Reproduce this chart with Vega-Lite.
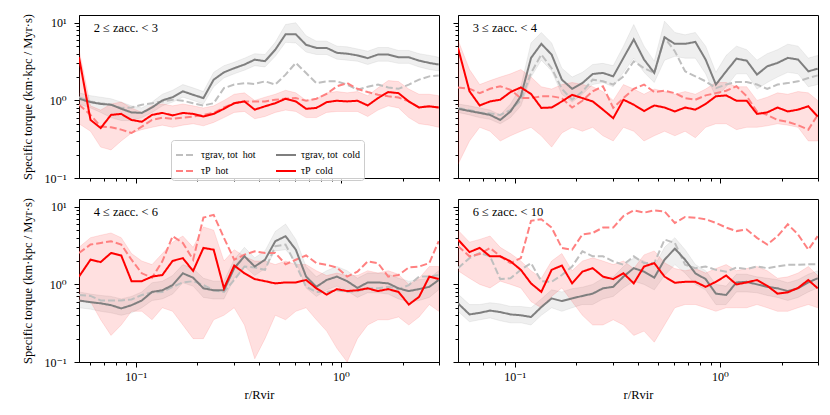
{
  "$schema": "https://vega.github.io/schema/vega-lite/v6.json",
  "padding": {"left": 20, "top": 13, "right": 14, "bottom": 5},
  "background": "white",
  "config": {
    "font": "Liberation Serif, DejaVu Serif, serif",
    "view": {"stroke": "black", "strokeWidth": 1},
    "axis": {"grid": false, "domainColor": "black", "tickColor": "black", "labelColor": "black", "titleColor": "black", "labelFont": "Liberation Serif, DejaVu Serif, serif", "titleFont": "Liberation Serif, DejaVu Serif, serif", "labelFontSize": 12, "titleFontSize": 12.5, "titleFontWeight": "normal", "labelFlush": false, "labelOverlap": false},
    "legend": {"labelFont": "Liberation Serif, DejaVu Serif, serif", "labelFontSize": 11},
    "text": {"font": "Liberation Serif, DejaVu Serif, serif"}
  },
  "datasets": {
    "curves": [
      {"p":1,"x":0.053,"gh":1.1,"ph":0.88,"gc":1.05,"pc":3.6,"gl":0.9,"gu":1.25,"pl":0.5,"pu":4.5},
      {"p":1,"x":0.0603,"gh":0.97,"ph":0.65,"gc":0.95,"pc":0.56,"gl":0.8,"gu":1.15,"pl":0.4,"pu":0.85},
      {"p":1,"x":0.0676,"gh":0.92,"ph":0.46,"gc":0.9,"pc":0.44,"gl":0.7,"gu":1.1,"pl":0.25,"pu":0.75},
      {"p":1,"x":0.0759,"gh":0.88,"ph":0.45,"gc":0.88,"pc":0.65,"gl":0.6,"gu":1.05,"pl":0.23,"pu":0.9},
      {"p":1,"x":0.0851,"gh":0.8,"ph":0.42,"gc":0.78,"pc":0.67,"gl":0.55,"gu":0.95,"pl":0.3,"pu":0.95},
      {"p":1,"x":0.0955,"gh":0.81,"ph":0.38,"gc":0.7,"pc":0.56,"gl":0.55,"gu":0.85,"pl":0.38,"pu":0.8},
      {"p":1,"x":0.1072,"gh":0.88,"ph":0.46,"gc":0.69,"pc":0.53,"gl":0.6,"gu":0.8,"pl":0.42,"pu":0.7},
      {"p":1,"x":0.1202,"gh":0.92,"ph":0.56,"gc":0.81,"pc":0.65,"gl":0.7,"gu":0.95,"pl":0.45,"pu":0.85},
      {"p":1,"x":0.1349,"gh":0.97,"ph":0.6,"gc":1.0,"pc":0.69,"gl":0.85,"gu":1.2,"pl":0.48,"pu":0.9},
      {"p":1,"x":0.1514,"gh":1.02,"ph":0.58,"gc":1.1,"pc":0.64,"gl":0.95,"gu":1.35,"pl":0.45,"pu":0.85},
      {"p":1,"x":0.1698,"gh":0.99,"ph":0.6,"gc":1.31,"pc":0.69,"gl":1.1,"gu":1.6,"pl":0.48,"pu":0.9},
      {"p":1,"x":0.1905,"gh":0.92,"ph":0.62,"gc":1.18,"pc":0.67,"gl":1.0,"gu":1.45,"pl":0.5,"pu":0.85},
      {"p":1,"x":0.2138,"gh":0.86,"ph":0.65,"gc":1.07,"pc":0.62,"gl":0.9,"gu":1.3,"pl":0.47,"pu":0.8},
      {"p":1,"x":0.2399,"gh":0.92,"ph":0.69,"gc":1.85,"pc":0.67,"gl":1.5,"gu":2.3,"pl":0.52,"pu":0.85},
      {"p":1,"x":0.2692,"gh":1.44,"ph":0.81,"gc":2.3,"pc":0.78,"gl":1.95,"gu":2.8,"pl":0.6,"pu":1.0},
      {"p":1,"x":0.302,"gh":1.6,"ph":0.92,"gc":2.6,"pc":0.92,"gl":2.2,"gu":3.1,"pl":0.7,"pu":1.2},
      {"p":1,"x":0.3388,"gh":1.67,"ph":0.97,"gc":2.9,"pc":0.97,"gl":2.45,"gu":3.5,"pl":0.72,"pu":1.25},
      {"p":1,"x":0.3802,"gh":1.63,"ph":0.97,"gc":3.35,"pc":0.76,"gl":2.8,"gu":4.0,"pl":0.58,"pu":1.0},
      {"p":1,"x":0.4266,"gh":1.76,"ph":0.97,"gc":3.2,"pc":0.84,"gl":2.7,"gu":3.9,"pl":0.62,"pu":1.1},
      {"p":1,"x":0.4786,"gh":1.6,"ph":1.02,"gc":4.5,"pc":0.92,"gl":3.7,"gu":5.6,"pl":0.7,"pu":1.2},
      {"p":1,"x":0.537,"gh":2.15,"ph":1.05,"gc":7.1,"pc":1.05,"gl":5.6,"gu":9.5,"pl":0.75,"pu":1.35},
      {"p":1,"x":0.6026,"gh":3.04,"ph":1.07,"gc":7.1,"pc":0.97,"gl":5.5,"gu":10.0,"pl":0.72,"pu":1.25},
      {"p":1,"x":0.6761,"gh":2.25,"ph":0.99,"gc":5.2,"pc":0.78,"gl":4.2,"gu":6.8,"pl":0.6,"pu":1.0},
      {"p":1,"x":0.7586,"gh":1.67,"ph":1.05,"gc":4.75,"pc":0.8,"gl":3.9,"gu":5.8,"pl":0.6,"pu":1.05},
      {"p":1,"x":0.8511,"gh":1.76,"ph":1.21,"gc":4.75,"pc":0.95,"gl":3.9,"gu":5.8,"pl":0.7,"pu":1.25},
      {"p":1,"x":0.955,"gh":1.76,"ph":1.52,"gc":4.1,"pc":0.99,"gl":3.4,"gu":5.0,"pl":0.72,"pu":1.3},
      {"p":1,"x":1.0715,"gh":1.6,"ph":1.67,"gc":4.0,"pc":0.97,"gl":3.3,"gu":4.9,"pl":0.72,"pu":1.25},
      {"p":1,"x":1.2023,"gh":1.37,"ph":1.41,"gc":3.8,"pc":0.99,"gl":3.2,"gu":4.6,"pl":0.72,"pu":1.3},
      {"p":1,"x":1.349,"gh":1.5,"ph":1.28,"gc":3.5,"pc":0.86,"gl":2.9,"gu":4.3,"pl":0.62,"pu":1.15},
      {"p":1,"x":1.5136,"gh":1.6,"ph":1.18,"gc":3.9,"pc":1.07,"gl":3.2,"gu":4.8,"pl":0.75,"pu":1.45},
      {"p":1,"x":1.6982,"gh":1.47,"ph":1.13,"gc":3.9,"pc":1.28,"gl":3.2,"gu":4.8,"pl":0.85,"pu":1.8},
      {"p":1,"x":1.9055,"gh":1.41,"ph":1.09,"gc":3.6,"pc":1.24,"gl":3.0,"gu":4.4,"pl":0.8,"pu":1.75},
      {"p":1,"x":2.138,"gh":1.6,"ph":0.97,"gc":3.6,"pc":0.97,"gl":3.0,"gu":4.4,"pl":0.6,"pu":1.4},
      {"p":1,"x":2.3988,"gh":1.85,"ph":0.81,"gc":3.25,"pc":0.81,"gl":2.7,"gu":4.0,"pl":0.5,"pu":1.2},
      {"p":1,"x":2.6915,"gh":2.04,"ph":0.84,"gc":3.04,"pc":0.84,"gl":2.5,"gu":3.8,"pl":0.48,"pu":1.2},
      {"p":1,"x":2.99,"gh":2.1,"ph":0.81,"gc":2.9,"pc":0.81,"gl":2.4,"gu":3.6,"pl":0.45,"pu":1.15},

      {"p":2,"x":0.053,"gh":0.8,"ph":1.47,"gc":0.78,"pc":4.75,"gl":0.7,"gu":0.9,"pl":0.15,"pu":6.0},
      {"p":2,"x":0.0603,"gh":0.75,"ph":1.41,"gc":0.73,"pc":1.31,"gl":0.65,"gu":0.85,"pl":0.3,"pu":2.5},
      {"p":2,"x":0.0676,"gh":0.7,"ph":1.24,"gc":0.69,"pc":0.86,"gl":0.6,"gu":0.8,"pl":0.45,"pu":1.6},
      {"p":2,"x":0.0759,"gh":0.68,"ph":1.41,"gc":0.65,"pc":0.97,"gl":0.57,"gu":0.75,"pl":0.4,"pu":1.8},
      {"p":2,"x":0.0851,"gh":0.65,"ph":1.52,"gc":0.56,"pc":1.02,"gl":0.5,"gu":0.65,"pl":0.3,"pu":2.0},
      {"p":2,"x":0.0955,"gh":0.75,"ph":1.37,"gc":0.72,"pc":1.28,"gl":0.6,"gu":0.9,"pl":0.35,"pu":2.2},
      {"p":2,"x":0.1072,"gh":1.0,"ph":1.07,"gc":1.13,"pc":1.47,"gl":0.85,"gu":1.5,"pl":0.4,"pu":2.5},
      {"p":2,"x":0.1202,"gh":2.26,"ph":1.07,"gc":3.53,"pc":1.21,"gl":2.0,"gu":5.5,"pl":0.45,"pu":2.0},
      {"p":2,"x":0.1349,"gh":3.9,"ph":1.13,"gc":5.35,"pc":0.8,"gl":3.3,"gu":7.5,"pl":0.35,"pu":1.5},
      {"p":2,"x":0.1514,"gh":2.6,"ph":1.13,"gc":3.89,"pc":0.81,"gl":2.4,"gu":5.5,"pl":0.25,"pu":1.4},
      {"p":2,"x":0.1698,"gh":1.41,"ph":1.07,"gc":1.85,"pc":0.97,"gl":1.2,"gu":2.6,"pl":0.38,"pu":1.6},
      {"p":2,"x":0.1905,"gh":1.02,"ph":0.81,"gc":1.41,"pc":1.18,"gl":0.95,"gu":2.0,"pl":0.45,"pu":1.7},
      {"p":2,"x":0.2138,"gh":1.3,"ph":0.99,"gc":1.67,"pc":1.07,"gl":1.2,"gu":2.3,"pl":0.4,"pu":1.6},
      {"p":2,"x":0.2399,"gh":1.85,"ph":1.31,"gc":2.19,"pc":0.97,"gl":1.6,"gu":2.9,"pl":0.45,"pu":1.5},
      {"p":2,"x":0.2692,"gh":1.76,"ph":1.52,"gc":2.26,"pc":0.76,"gl":1.7,"gu":3.0,"pl":0.35,"pu":1.3},
      {"p":2,"x":0.302,"gh":1.6,"ph":0.8,"gc":2.04,"pc":0.59,"gl":1.5,"gu":2.8,"pl":0.3,"pu":1.0},
      {"p":2,"x":0.3388,"gh":2.04,"ph":1.07,"gc":3.53,"pc":1.02,"gl":2.3,"gu":5.0,"pl":0.45,"pu":1.6},
      {"p":2,"x":0.3802,"gh":3.19,"ph":1.41,"gc":6.1,"pc":0.88,"gl":3.5,"gu":9.5,"pl":0.4,"pu":1.4},
      {"p":2,"x":0.4266,"gh":2.6,"ph":1.6,"gc":3.36,"pc":0.73,"gl":2.3,"gu":5.0,"pl":0.3,"pu":1.2},
      {"p":2,"x":0.4786,"gh":2.26,"ph":1.28,"gc":2.26,"pc":0.86,"gl":1.7,"gu":3.2,"pl":0.35,"pu":1.4},
      {"p":2,"x":0.537,"gh":6.4,"ph":1.33,"gc":6.5,"pc":0.81,"gl":3.3,"gu":10.5,"pl":0.4,"pu":1.3},
      {"p":2,"x":0.6026,"gh":4.3,"ph":1.24,"gc":5.35,"pc":0.72,"gl":3.7,"gu":7.5,"pl":0.35,"pu":1.2},
      {"p":2,"x":0.6761,"gh":2.37,"ph":1.07,"gc":5.35,"pc":0.81,"gl":3.5,"gu":7.0,"pl":0.4,"pu":1.3},
      {"p":2,"x":0.7586,"gh":2.04,"ph":1.02,"gc":5.67,"pc":0.76,"gl":3.5,"gu":7.5,"pl":0.33,"pu":1.2},
      {"p":2,"x":0.8511,"gh":1.76,"ph":1.16,"gc":3.36,"pc":0.9,"gl":2.2,"gu":5.0,"pl":0.45,"pu":1.4},
      {"p":2,"x":0.955,"gh":1.44,"ph":1.24,"gc":1.6,"pc":1.13,"gl":1.1,"gu":2.3,"pl":0.5,"pu":1.7},
      {"p":2,"x":1.0715,"gh":1.6,"ph":1.33,"gc":2.37,"pc":1.16,"gl":1.5,"gu":3.8,"pl":0.5,"pu":1.7},
      {"p":2,"x":1.2023,"gh":1.73,"ph":1.52,"gc":3.45,"pc":0.99,"gl":2.2,"gu":5.0,"pl":0.42,"pu":1.5},
      {"p":2,"x":1.349,"gh":1.73,"ph":1.13,"gc":3.25,"pc":0.99,"gl":2.2,"gu":4.5,"pl":0.45,"pu":1.5},
      {"p":2,"x":1.5136,"gh":1.6,"ph":0.72,"gc":2.15,"pc":0.67,"gl":1.4,"gu":3.3,"pl":0.45,"pu":1.0},
      {"p":2,"x":1.6982,"gh":1.41,"ph":0.65,"gc":2.75,"pc":0.7,"gl":1.7,"gu":4.0,"pl":0.47,"pu":1.1},
      {"p":2,"x":1.9055,"gh":1.6,"ph":0.56,"gc":3.04,"pc":0.81,"gl":2.0,"gu":4.5,"pl":0.5,"pu":1.25},
      {"p":2,"x":2.138,"gh":1.67,"ph":0.53,"gc":3.53,"pc":0.72,"gl":2.3,"gu":5.3,"pl":0.48,"pu":1.2},
      {"p":2,"x":2.3988,"gh":1.76,"ph":0.48,"gc":3.36,"pc":0.76,"gl":2.2,"gu":5.0,"pl":0.45,"pu":1.3},
      {"p":2,"x":2.6915,"gh":1.94,"ph":0.42,"gc":2.37,"pc":0.84,"gl":1.5,"gu":3.5,"pl":0.3,"pu":1.25},
      {"p":2,"x":2.99,"gh":2.1,"ph":0.65,"gc":2.56,"pc":0.62,"gl":1.6,"gu":3.8,"pl":0.3,"pu":1.0},

      {"p":3,"x":0.053,"gh":0.73,"ph":2.54,"gc":0.62,"pc":1.26,"gl":0.5,"gu":0.8,"pl":0.6,"pu":3.0},
      {"p":3,"x":0.0603,"gh":0.71,"ph":3.26,"gc":0.59,"pc":2.08,"gl":0.48,"gu":0.75,"pl":0.6,"pu":4.0},
      {"p":3,"x":0.0676,"gh":0.62,"ph":3.42,"gc":0.57,"pc":1.94,"gl":0.45,"gu":0.72,"pl":0.35,"pu":4.3},
      {"p":3,"x":0.0759,"gh":0.62,"ph":3.6,"gc":0.54,"pc":2.54,"gl":0.43,"gu":0.7,"pl":0.22,"pu":4.6},
      {"p":3,"x":0.0851,"gh":0.62,"ph":3.26,"gc":0.49,"pc":2.36,"gl":0.4,"gu":0.65,"pl":0.3,"pu":4.0},
      {"p":3,"x":0.0955,"gh":0.64,"ph":2.08,"gc":0.54,"pc":1.1,"gl":0.43,"gu":0.7,"pl":0.45,"pu":2.5},
      {"p":3,"x":0.1072,"gh":0.73,"ph":1.39,"gc":0.62,"pc":1.1,"gl":0.5,"gu":0.8,"pl":0.45,"pu":2.0},
      {"p":3,"x":0.1202,"gh":0.79,"ph":1.22,"gc":0.8,"pc":1.26,"gl":0.62,"gu":1.05,"pl":0.35,"pu":1.8},
      {"p":3,"x":0.1349,"gh":0.8,"ph":1.98,"gc":0.84,"pc":1.32,"gl":0.65,"gu":1.1,"pl":0.5,"pu":2.5},
      {"p":3,"x":0.1514,"gh":0.93,"ph":4.18,"gc":0.98,"pc":2.01,"gl":0.75,"gu":1.3,"pl":0.45,"pu":3.5},
      {"p":3,"x":0.1698,"gh":1.06,"ph":3.42,"gc":1.39,"pc":2.18,"gl":1.05,"gu":1.8,"pl":0.3,"pu":4.2},
      {"p":3,"x":0.1905,"gh":1.1,"ph":2.08,"gc":1.22,"pc":1.49,"gl":0.95,"gu":1.6,"pl":0.2,"pu":3.0},
      {"p":3,"x":0.2138,"gh":0.98,"ph":7.25,"gc":0.89,"pc":2.95,"gl":0.68,"gu":1.2,"pl":0.2,"pu":5.5},
      {"p":3,"x":0.2399,"gh":0.84,"ph":7.86,"gc":0.84,"pc":2.8,"gl":0.65,"gu":1.1,"pl":0.35,"pu":5.0},
      {"p":3,"x":0.2692,"gh":0.8,"ph":3.98,"gc":0.84,"pc":0.89,"gl":0.65,"gu":1.1,"pl":0.4,"pu":2.0},
      {"p":3,"x":0.302,"gh":1.14,"ph":2.08,"gc":1.62,"pc":1.75,"gl":1.2,"gu":2.1,"pl":0.5,"pu":2.8},
      {"p":3,"x":0.3388,"gh":1.7,"ph":2.41,"gc":2.3,"pc":1.39,"gl":1.7,"gu":3.0,"pl":0.3,"pu":2.3},
      {"p":3,"x":0.3802,"gh":1.65,"ph":2.67,"gc":1.7,"pc":1.17,"gl":1.3,"gu":2.2,"pl":0.11,"pu":2.0},
      {"p":3,"x":0.4266,"gh":1.54,"ph":2.54,"gc":2.08,"pc":1.1,"gl":1.6,"gu":2.7,"pl":0.2,"pu":2.0},
      {"p":3,"x":0.4786,"gh":3.1,"ph":2.54,"gc":3.6,"pc":1.03,"gl":2.7,"gu":4.8,"pl":0.4,"pu":1.8},
      {"p":3,"x":0.537,"gh":3.26,"ph":1.82,"gc":4.18,"pc":1.06,"gl":2.8,"gu":6.0,"pl":0.35,"pu":2.0},
      {"p":3,"x":0.6026,"gh":1.79,"ph":2.08,"gc":2.8,"pc":1.06,"gl":2.0,"gu":3.8,"pl":0.45,"pu":1.8},
      {"p":3,"x":0.6761,"gh":0.93,"ph":2.36,"gc":1.26,"pc":1.14,"gl":0.9,"gu":1.7,"pl":0.5,"pu":1.8},
      {"p":3,"x":0.7586,"gh":0.8,"ph":1.88,"gc":0.93,"pc":0.89,"gl":0.7,"gu":1.25,"pl":0.35,"pu":1.5},
      {"p":3,"x":0.8511,"gh":0.8,"ph":1.79,"gc":1.14,"pc":0.74,"gl":0.85,"gu":1.5,"pl":0.25,"pu":1.3},
      {"p":3,"x":0.955,"gh":0.84,"ph":1.65,"gc":1.26,"pc":0.87,"gl":0.95,"gu":1.7,"pl":0.15,"pu":1.4},
      {"p":3,"x":1.0715,"gh":0.8,"ph":1.26,"gc":1.1,"pc":0.82,"gl":0.82,"gu":1.5,"pl":0.1,"pu":1.3},
      {"p":3,"x":1.2023,"gh":0.82,"ph":1.46,"gc":0.9,"pc":0.84,"gl":0.68,"gu":1.2,"pl":0.2,"pu":1.3},
      {"p":3,"x":1.349,"gh":0.89,"ph":1.98,"gc":1.06,"pc":0.89,"gl":0.78,"gu":1.4,"pl":0.3,"pu":1.5},
      {"p":3,"x":1.5136,"gh":0.89,"ph":1.88,"gc":1.06,"pc":0.82,"gl":0.78,"gu":1.4,"pl":0.35,"pu":1.4},
      {"p":3,"x":1.6982,"gh":0.93,"ph":1.26,"gc":1.03,"pc":0.87,"gl":0.75,"gu":1.35,"pl":0.35,"pu":1.5},
      {"p":3,"x":1.9055,"gh":0.87,"ph":1.32,"gc":0.89,"pc":0.8,"gl":0.65,"gu":1.2,"pl":0.38,"pu":1.35},
      {"p":3,"x":2.138,"gh":0.98,"ph":1.65,"gc":0.82,"pc":0.55,"gl":0.6,"gu":1.1,"pl":0.3,"pu":1.0},
      {"p":3,"x":2.3988,"gh":1.26,"ph":1.7,"gc":0.87,"pc":0.69,"gl":0.62,"gu":1.15,"pl":0.38,"pu":1.2},
      {"p":3,"x":2.6915,"gh":1.26,"ph":1.88,"gc":0.93,"pc":1.26,"gl":0.68,"gu":1.2,"pl":0.55,"pu":1.7},
      {"p":3,"x":2.99,"gh":1.32,"ph":3.6,"gc":1.14,"pc":1.17,"gl":0.85,"gu":1.5,"pl":0.45,"pu":1.7},

      {"p":4,"x":0.053,"gh":1.62,"ph":3.1,"gc":0.57,"pc":3.78,"gl":0.45,"gu":0.75,"pl":1.5,"pu":5.0},
      {"p":4,"x":0.0603,"gh":2.18,"ph":2.3,"gc":0.41,"pc":2.61,"gl":0.33,"gu":0.55,"pl":1.2,"pu":3.5},
      {"p":4,"x":0.0676,"gh":2.54,"ph":2.46,"gc":0.43,"pc":2.95,"gl":0.35,"gu":0.55,"pl":1.0,"pu":3.8},
      {"p":4,"x":0.0759,"gh":2.3,"ph":2.95,"gc":0.46,"pc":2.3,"gl":0.37,"gu":0.58,"pl":0.9,"pu":4.2},
      {"p":4,"x":0.0851,"gh":1.17,"ph":2.3,"gc":0.44,"pc":2.3,"gl":0.34,"gu":0.56,"pl":1.1,"pu":3.0},
      {"p":4,"x":0.0955,"gh":1.2,"ph":1.88,"gc":0.41,"pc":1.98,"gl":0.32,"gu":0.52,"pl":1.0,"pu":2.5},
      {"p":4,"x":0.1072,"gh":1.54,"ph":2.18,"gc":0.4,"pc":1.54,"gl":0.32,"gu":0.52,"pl":0.9,"pu":2.0},
      {"p":4,"x":0.1202,"gh":1.88,"ph":6.6,"gc":0.38,"pc":1.03,"gl":0.3,"gu":0.5,"pl":0.6,"pu":1.5},
      {"p":4,"x":0.1349,"gh":1.1,"ph":6.9,"gc":0.51,"pc":0.8,"gl":0.4,"gu":0.65,"pl":0.5,"pu":1.2},
      {"p":4,"x":0.1514,"gh":1.08,"ph":5.4,"gc":0.66,"pc":1.54,"gl":0.5,"gu":0.85,"pl":0.7,"pu":2.0},
      {"p":4,"x":0.1698,"gh":1.32,"ph":2.95,"gc":0.61,"pc":1.75,"gl":0.45,"gu":0.8,"pl":0.9,"pu":2.5},
      {"p":4,"x":0.1905,"gh":1.7,"ph":2.8,"gc":0.66,"pc":1.03,"gl":0.5,"gu":0.88,"pl":0.6,"pu":1.5},
      {"p":4,"x":0.2138,"gh":2.67,"ph":4.4,"gc":0.71,"pc":1.46,"gl":0.55,"gu":0.92,"pl":0.4,"pu":2.0},
      {"p":4,"x":0.2399,"gh":2.3,"ph":4.6,"gc":0.76,"pc":1.62,"gl":0.55,"gu":1.0,"pl":0.3,"pu":2.2},
      {"p":4,"x":0.2692,"gh":2.3,"ph":5.4,"gc":0.89,"pc":1.26,"gl":0.65,"gu":1.2,"pl":0.3,"pu":2.0},
      {"p":4,"x":0.302,"gh":1.98,"ph":5.4,"gc":0.93,"pc":1.17,"gl":0.7,"gu":1.25,"pl":0.35,"pu":1.8},
      {"p":4,"x":0.3388,"gh":1.79,"ph":7.6,"gc":1.26,"pc":1.39,"gl":0.9,"gu":1.7,"pl":0.3,"pu":2.0},
      {"p":4,"x":0.3802,"gh":2.3,"ph":9.0,"gc":1.62,"pc":1.03,"gl":1.1,"gu":2.2,"pl":0.22,"pu":1.6},
      {"p":4,"x":0.4266,"gh":1.88,"ph":8.4,"gc":1.46,"pc":1.7,"gl":1.0,"gu":2.0,"pl":0.25,"pu":2.4},
      {"p":4,"x":0.4786,"gh":1.88,"ph":9.0,"gc":1.22,"pc":1.88,"gl":0.85,"gu":1.7,"pl":0.18,"pu":2.7},
      {"p":4,"x":0.537,"gh":3.78,"ph":8.7,"gc":2.08,"pc":1.26,"gl":1.3,"gu":3.0,"pl":0.3,"pu":1.9},
      {"p":4,"x":0.6026,"gh":3.42,"ph":6.2,"gc":2.89,"pc":1.05,"gl":1.8,"gu":4.0,"pl":0.5,"pu":1.6},
      {"p":4,"x":0.6761,"gh":1.79,"ph":7.4,"gc":2.08,"pc":1.08,"gl":1.4,"gu":2.8,"pl":0.55,"pu":1.5},
      {"p":4,"x":0.7586,"gh":1.62,"ph":7.25,"gc":1.39,"pc":1.08,"gl":1.0,"gu":1.8,"pl":0.55,"pu":1.6},
      {"p":4,"x":0.8511,"gh":1.7,"ph":6.9,"gc":1.17,"pc":0.93,"gl":0.85,"gu":1.5,"pl":0.5,"pu":1.4},
      {"p":4,"x":0.955,"gh":1.54,"ph":6.2,"gc":0.76,"pc":1.08,"gl":0.55,"gu":1.0,"pl":0.45,"pu":1.6},
      {"p":4,"x":1.0715,"gh":1.46,"ph":5.4,"gc":0.73,"pc":1.3,"gl":0.55,"gu":0.95,"pl":0.5,"pu":1.8},
      {"p":4,"x":1.2023,"gh":1.65,"ph":4.86,"gc":1.06,"pc":1.0,"gl":0.8,"gu":1.35,"pl":0.5,"pu":1.5},
      {"p":4,"x":1.349,"gh":1.58,"ph":5.1,"gc":1.08,"pc":1.06,"gl":0.8,"gu":1.35,"pl":0.5,"pu":1.6},
      {"p":4,"x":1.5136,"gh":1.7,"ph":3.98,"gc":1.0,"pc":1.14,"gl":0.78,"gu":1.25,"pl":0.55,"pu":1.7},
      {"p":4,"x":1.6982,"gh":1.62,"ph":3.26,"gc":0.93,"pc":0.96,"gl":0.72,"gu":1.2,"pl":0.5,"pu":1.5},
      {"p":4,"x":1.9055,"gh":1.7,"ph":4.18,"gc":0.89,"pc":0.76,"gl":0.68,"gu":1.15,"pl":0.45,"pu":1.2},
      {"p":4,"x":2.138,"gh":1.79,"ph":5.95,"gc":0.82,"pc":0.79,"gl":0.62,"gu":1.05,"pl":0.45,"pu":1.25},
      {"p":4,"x":2.3988,"gh":1.79,"ph":4.4,"gc":0.89,"pc":0.9,"gl":0.68,"gu":1.15,"pl":0.5,"pu":1.4},
      {"p":4,"x":2.6915,"gh":1.82,"ph":2.8,"gc":1.06,"pc":1.14,"gl":0.8,"gu":1.35,"pl":0.55,"pu":1.7},
      {"p":4,"x":2.99,"gh":1.82,"ph":4.18,"gc":1.2,"pc":0.89,"gl":0.9,"gu":1.5,"pl":0.5,"pu":1.3}
    ]
  },
  "columns": 2,
  "spacing": {"row": 21, "column": 19},
  "bounds": "flush",
  "resolve": {
    "scale": {"color": "independent", "strokeDash": "independent"},
    "legend": {"color": "independent", "strokeDash": "independent"}
  },
  "concat": [
    {
      "width": 360, "height": 163,
      "layer": [
        {"data": {"name": "curves"}, "transform": [{"filter": "datum.p == 1"}],
         "mark": {"type": "area", "color": "#808080", "fillOpacity": 0.13, "stroke": "#808080", "strokeOpacity": 0.12, "strokeWidth": 1, "clip": true},
         "encoding": {
           "x": {"field": "x", "type": "quantitative", "scale": {"type": "log", "domain": [0.053, 3.0], "nice": false},
                 "axis": {"values": [0.06,0.07,0.08,0.09,0.1,0.2,0.3,0.4,0.5,0.6,0.7,0.8,0.9,1,2,3], "labels": false, "title": null, "tickSize": {"condition": {"test": "datum.value === 0.1 || datum.value === 1", "value": 5}, "value": 3}}},
           "y": {"field": "gl", "type": "quantitative", "scale": {"type": "log", "domain": [0.1, 12.6], "nice": false},
                 "axis": {"values": [0.1,0.2,0.3,0.4,0.5,0.6,0.7,0.8,0.9,1,2,3,4,5,6,7,8,9,10], "labelExpr": "datum.value === 0.1 ? '10⁻¹' : datum.value === 1 ? '10⁰' : datum.value === 10 ? '10¹' : ''", "labelPadding": 8, "title": "Specific torque (km·kpc / Myr·s)", "titlePadding": 10, "tickSize": {"condition": {"test": "datum.value === 0.1 || datum.value === 1 || datum.value === 10", "value": 5}, "value": 3}}},
           "y2": {"field": "gu"}
         }},
        {"data": {"name": "curves"}, "transform": [{"filter": "datum.p == 1"}],
         "mark": {"type": "area", "color": "#ff0000", "fillOpacity": 0.12, "stroke": "#ff0000", "strokeOpacity": 0.1, "strokeWidth": 1, "clip": true},
         "encoding": {"x": {"field": "x", "type": "quantitative"}, "y": {"field": "pl", "type": "quantitative"}, "y2": {"field": "pu"}}},
        {"data": {"name": "curves"}, "transform": [{"filter": "datum.p == 1"}, {"fold": ["gh", "ph", "gc", "pc"], "as": ["key", "value"]}],
         "mark": {"type": "line", "strokeWidth": 2, "clip": true},
         "encoding": {
           "x": {"field": "x", "type": "quantitative"},
           "y": {"field": "value", "type": "quantitative"},
           "color": {"field": "key", "type": "nominal", "scale": {"domain": ["gh", "ph", "gc", "pc"], "range": ["#bfbfbf", "#ff8080", "#7f7f7f", "#ff0000"]},
                     "legend": {"orient": "none", "legendX": 92, "legendY": 125, "columns": 2, "title": null, "symbolType": "stroke", "symbolSize": 400, "symbolStrokeWidth": 2, "labelFontSize": 10, "fillColor": "rgba(255,255,255,0.8)", "strokeColor": "#cccccc", "padding": 4, "cornerRadius": 3, "columnPadding": 16, "rowPadding": 0,
                                "labelExpr": "datum.label === 'gh' ? 'τgrav, tot\u00a0\u00a0hot' : datum.label === 'gc' ? 'τgrav, tot\u00a0\u00a0cold' : datum.label === 'ph' ? 'τP\u00a0\u00a0hot' : 'τP\u00a0\u00a0cold'"}},
           "strokeDash": {"field": "key", "type": "nominal", "scale": {"domain": ["gh", "ph", "gc", "pc"], "range": [[7, 3], [7, 3], [1, 0], [1, 0]]},
                     "legend": {"orient": "none", "legendX": 92, "legendY": 125, "columns": 2, "title": null, "symbolType": "stroke", "symbolSize": 400, "symbolStrokeWidth": 2, "labelFontSize": 10, "fillColor": "rgba(255,255,255,0.8)", "strokeColor": "#cccccc", "padding": 4, "cornerRadius": 3, "columnPadding": 16, "rowPadding": 0,
                                "labelExpr": "datum.label === 'gh' ? 'τgrav, tot\u00a0\u00a0hot' : datum.label === 'gc' ? 'τgrav, tot\u00a0\u00a0cold' : datum.label === 'ph' ? 'τP\u00a0\u00a0hot' : 'τP\u00a0\u00a0cold'"}}
         }},
        {"data": {"values": [{}]}, "mark": {"type": "text", "align": "left", "baseline": "middle", "fontSize": 12.5, "color": "black"},
         "encoding": {"x": {"datum": 0.0625}, "y": {"datum": 8.6}, "text": {"value": "2 ≤ zacc. < 3"}}}
      ]
    },
    {
      "width": 360, "height": 163,
      "layer": [
        {"data": {"name": "curves"}, "transform": [{"filter": "datum.p == 2"}],
         "mark": {"type": "area", "color": "#808080", "fillOpacity": 0.13, "stroke": "#808080", "strokeOpacity": 0.12, "strokeWidth": 1, "clip": true},
         "encoding": {
           "x": {"field": "x", "type": "quantitative", "scale": {"type": "log", "domain": [0.053, 3.0], "nice": false},
                 "axis": {"values": [0.06,0.07,0.08,0.09,0.1,0.2,0.3,0.4,0.5,0.6,0.7,0.8,0.9,1,2,3], "labels": false, "title": null, "tickSize": {"condition": {"test": "datum.value === 0.1 || datum.value === 1", "value": 5}, "value": 3}}},
           "y": {"field": "gl", "type": "quantitative", "scale": {"type": "log", "domain": [0.1, 12.6], "nice": false},
                 "axis": {"values": [0.1,0.2,0.3,0.4,0.5,0.6,0.7,0.8,0.9,1,2,3,4,5,6,7,8,9,10], "labels": false, "title": null, "tickSize": {"condition": {"test": "datum.value === 0.1 || datum.value === 1 || datum.value === 10", "value": 5}, "value": 3}}},
           "y2": {"field": "gu"}
         }},
        {"data": {"name": "curves"}, "transform": [{"filter": "datum.p == 2"}],
         "mark": {"type": "area", "color": "#ff0000", "fillOpacity": 0.12, "stroke": "#ff0000", "strokeOpacity": 0.1, "strokeWidth": 1, "clip": true},
         "encoding": {"x": {"field": "x", "type": "quantitative"}, "y": {"field": "pl", "type": "quantitative"}, "y2": {"field": "pu"}}},
        {"data": {"name": "curves"}, "transform": [{"filter": "datum.p == 2"}, {"fold": ["gh", "ph", "gc", "pc"], "as": ["key", "value"]}],
         "mark": {"type": "line", "strokeWidth": 2, "clip": true},
         "encoding": {
           "x": {"field": "x", "type": "quantitative"},
           "y": {"field": "value", "type": "quantitative"},
           "color": {"field": "key", "type": "nominal", "scale": {"domain": ["gh", "ph", "gc", "pc"], "range": ["#bfbfbf", "#ff8080", "#7f7f7f", "#ff0000"]}, "legend": null},
           "strokeDash": {"field": "key", "type": "nominal", "scale": {"domain": ["gh", "ph", "gc", "pc"], "range": [[7, 3], [7, 3], [1, 0], [1, 0]]}, "legend": null}
         }},
        {"data": {"values": [{}]}, "mark": {"type": "text", "align": "left", "baseline": "middle", "fontSize": 12.5, "color": "black"},
         "encoding": {"x": {"datum": 0.0625}, "y": {"datum": 8.6}, "text": {"value": "3 ≤ zacc. < 4"}}}
      ]
    },
    {
      "width": 360, "height": 163,
      "layer": [
        {"data": {"name": "curves"}, "transform": [{"filter": "datum.p == 3"}],
         "mark": {"type": "area", "color": "#808080", "fillOpacity": 0.13, "stroke": "#808080", "strokeOpacity": 0.12, "strokeWidth": 1, "clip": true},
         "encoding": {
           "x": {"field": "x", "type": "quantitative", "scale": {"type": "log", "domain": [0.053, 3.0], "nice": false},
                 "axis": {"values": [0.06,0.07,0.08,0.09,0.1,0.2,0.3,0.4,0.5,0.6,0.7,0.8,0.9,1,2,3], "labelExpr": "datum.value === 0.1 ? '10⁻¹' : datum.value === 1 ? '10⁰' : ''", "labelPadding": 4, "title": "r/Rvir", "titlePadding": 6, "tickSize": {"condition": {"test": "datum.value === 0.1 || datum.value === 1", "value": 5}, "value": 3}}},
           "y": {"field": "gl", "type": "quantitative", "scale": {"type": "log", "domain": [0.1, 12.6], "nice": false},
                 "axis": {"values": [0.1,0.2,0.3,0.4,0.5,0.6,0.7,0.8,0.9,1,2,3,4,5,6,7,8,9,10], "labelExpr": "datum.value === 0.1 ? '10⁻¹' : datum.value === 1 ? '10⁰' : datum.value === 10 ? '10¹' : ''", "labelPadding": 8, "title": "Specific torque (km·kpc / Myr·s)", "titlePadding": 10, "tickSize": {"condition": {"test": "datum.value === 0.1 || datum.value === 1 || datum.value === 10", "value": 5}, "value": 3}}},
           "y2": {"field": "gu"}
         }},
        {"data": {"name": "curves"}, "transform": [{"filter": "datum.p == 3"}],
         "mark": {"type": "area", "color": "#ff0000", "fillOpacity": 0.12, "stroke": "#ff0000", "strokeOpacity": 0.1, "strokeWidth": 1, "clip": true},
         "encoding": {"x": {"field": "x", "type": "quantitative"}, "y": {"field": "pl", "type": "quantitative"}, "y2": {"field": "pu"}}},
        {"data": {"name": "curves"}, "transform": [{"filter": "datum.p == 3"}, {"fold": ["gh", "ph", "gc", "pc"], "as": ["key", "value"]}],
         "mark": {"type": "line", "strokeWidth": 2, "clip": true},
         "encoding": {
           "x": {"field": "x", "type": "quantitative"},
           "y": {"field": "value", "type": "quantitative"},
           "color": {"field": "key", "type": "nominal", "scale": {"domain": ["gh", "ph", "gc", "pc"], "range": ["#bfbfbf", "#ff8080", "#7f7f7f", "#ff0000"]}, "legend": null},
           "strokeDash": {"field": "key", "type": "nominal", "scale": {"domain": ["gh", "ph", "gc", "pc"], "range": [[7, 3], [7, 3], [1, 0], [1, 0]]}, "legend": null}
         }},
        {"data": {"values": [{}]}, "mark": {"type": "text", "align": "left", "baseline": "middle", "fontSize": 12.5, "color": "black"},
         "encoding": {"x": {"datum": 0.0625}, "y": {"datum": 8.6}, "text": {"value": "4 ≤ zacc. < 6"}}}
      ]
    },
    {
      "width": 360, "height": 163,
      "layer": [
        {"data": {"name": "curves"}, "transform": [{"filter": "datum.p == 4"}],
         "mark": {"type": "area", "color": "#808080", "fillOpacity": 0.13, "stroke": "#808080", "strokeOpacity": 0.12, "strokeWidth": 1, "clip": true},
         "encoding": {
           "x": {"field": "x", "type": "quantitative", "scale": {"type": "log", "domain": [0.053, 3.0], "nice": false},
                 "axis": {"values": [0.06,0.07,0.08,0.09,0.1,0.2,0.3,0.4,0.5,0.6,0.7,0.8,0.9,1,2,3], "labelExpr": "datum.value === 0.1 ? '10⁻¹' : datum.value === 1 ? '10⁰' : ''", "labelPadding": 4, "title": "r/Rvir", "titlePadding": 6, "tickSize": {"condition": {"test": "datum.value === 0.1 || datum.value === 1", "value": 5}, "value": 3}}},
           "y": {"field": "gl", "type": "quantitative", "scale": {"type": "log", "domain": [0.1, 12.6], "nice": false},
                 "axis": {"values": [0.1,0.2,0.3,0.4,0.5,0.6,0.7,0.8,0.9,1,2,3,4,5,6,7,8,9,10], "labels": false, "title": null, "tickSize": {"condition": {"test": "datum.value === 0.1 || datum.value === 1 || datum.value === 10", "value": 5}, "value": 3}}},
           "y2": {"field": "gu"}
         }},
        {"data": {"name": "curves"}, "transform": [{"filter": "datum.p == 4"}],
         "mark": {"type": "area", "color": "#ff0000", "fillOpacity": 0.12, "stroke": "#ff0000", "strokeOpacity": 0.1, "strokeWidth": 1, "clip": true},
         "encoding": {"x": {"field": "x", "type": "quantitative"}, "y": {"field": "pl", "type": "quantitative"}, "y2": {"field": "pu"}}},
        {"data": {"name": "curves"}, "transform": [{"filter": "datum.p == 4"}, {"fold": ["gh", "ph", "gc", "pc"], "as": ["key", "value"]}],
         "mark": {"type": "line", "strokeWidth": 2, "clip": true},
         "encoding": {
           "x": {"field": "x", "type": "quantitative"},
           "y": {"field": "value", "type": "quantitative"},
           "color": {"field": "key", "type": "nominal", "scale": {"domain": ["gh", "ph", "gc", "pc"], "range": ["#bfbfbf", "#ff8080", "#7f7f7f", "#ff0000"]}, "legend": null},
           "strokeDash": {"field": "key", "type": "nominal", "scale": {"domain": ["gh", "ph", "gc", "pc"], "range": [[7, 3], [7, 3], [1, 0], [1, 0]]}, "legend": null}
         }},
        {"data": {"values": [{}]}, "mark": {"type": "text", "align": "left", "baseline": "middle", "fontSize": 12.5, "color": "black"},
         "encoding": {"x": {"datum": 0.0625}, "y": {"datum": 8.6}, "text": {"value": "6 ≤ zacc. < 10"}}}
      ]
    }
  ]
}
